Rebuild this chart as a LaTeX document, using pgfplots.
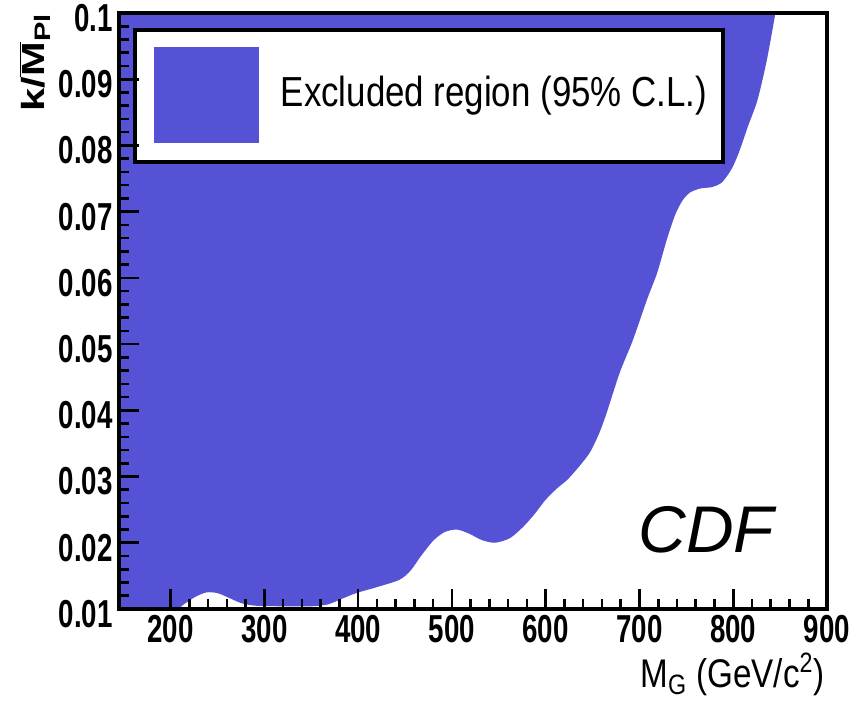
\documentclass[border=0pt]{standalone}
\usepackage{fontspec}
\setmainfont{Liberation Sans}
\newfontfamily\tickfont{Liberation Sans}[FakeStretch=0.71]
\newfontfamily\labfont{Liberation Sans}[FakeStretch=0.83]
\newfontfamily\ylabfont{Liberation Sans}[FakeStretch=1.3]
\usepackage{pgfplots}
\pgfplotsset{compat=1.18}
\usepgfplotslibrary{fillbetween}
\usetikzlibrary{calc}
\definecolor{exclblue}{RGB}{86,82,214}

\begin{document}
\begin{tikzpicture}
\begin{axis}[
  name=ax,
  scale only axis,
  width=354pt, height=298pt,
  xmin=145, xmax=900,
  ymin=0.01, ymax=0.1,
  axis on top,
  axis line style={line width=2pt, black},
  tick pos=left,
  tick align=inside,
  major tick length=10pt,
  minor tick length=5pt,
  every tick/.style={black, line width=1.3pt},
  xtick={200,300,400,500,600,700,800,900},
  xticklabels={200,300,400,500,600,700,800,900},
  ytick={0.01,0.02,0.03,0.04,0.05,0.06,0.07,0.08,0.09,0.1},
  yticklabels={0.01,0.02,0.03,0.04,0.05,0.06,0.07,0.08,0.09,0.1},
  minor x tick num=4,
  minor y tick num=4,
  xticklabel style={anchor=north, inner sep=0pt, yshift=-3pt,
    font=\tickfont\bfseries\fontsize{19.5}{20}\selectfont},
  yticklabel style={anchor=east, inner sep=0pt, xshift=-3pt, yshift=-2.5pt,
    font=\tickfont\bfseries\fontsize{19.5}{20}\selectfont},
]
% lower edge of the excluded region, k/M_Pl versus graviton mass
\addplot[name path=bnd, draw=none, smooth, tension=0.45] coordinates {
  (140,0.0097) (175,0.0097) (205,0.0099) (215,0.0108) (226,0.0118)
  (238,0.0125) (250,0.0124) (262,0.0117) (275,0.0109) (290,0.0105)
  (320,0.0104) (350,0.0104) (368,0.0107) (382,0.0115) (398,0.0124)
  (420,0.0133) (444,0.0144) (456,0.0158) (466,0.0178) (480,0.0203)
  (492,0.0216) (505,0.0220) (518,0.0214) (532,0.0204) (546,0.0200)
  (562,0.0207) (576,0.0224) (588,0.0243) (600,0.0265) (612,0.0282)
  (623,0.0295) (635,0.0314) (647,0.0336) (657,0.0365) (665,0.0396)
  (679,0.0457) (693,0.0506) (708,0.0567) (719,0.0608) (729,0.0657)
  (738,0.0695) (746,0.0717) (754,0.0729) (765,0.0735) (777,0.0737)
  (787,0.0743) (794,0.0755) (800,0.0769) (807,0.0793) (816,0.0830)
  (826,0.0869) (836,0.0930) (845,0.1000) (847,0.1020)
};
\addplot[name path=top, draw=none] coordinates {(140,0.1020) (847,0.1020)};
\addplot[fill=exclblue, draw=none] fill between[of=bnd and top];

% legend
\draw[line width=1.6pt, fill=white] (rel axis cs:0.0226,0.750) rectangle (rel axis cs:0.853,0.9715);
\fill[exclblue] (rel axis cs:0.0494,0.782) rectangle (rel axis cs:0.1977,0.943);
\node[anchor=base west, inner sep=0pt, font=\labfont\fontsize{21}{24}\selectfont]
  at (rel axis cs:0.228,0.8423) {Excluded region (95\% C.L.)};

% experiment tag
\node[anchor=base west, inner sep=0pt, font=\itshape\fontsize{33}{36}\selectfont]
  at (rel axis cs:0.733,0.0956) {CDF};
\end{axis}

\node[anchor=base east, inner sep=0pt, font=\labfont\fontsize{20}{22}\selectfont]
  at ($(ax.south east)+(-1pt,-39.5pt)$) {M\textsubscript{G} (GeV/c\textsuperscript{2})};
\node[rotate=90, anchor=base east, inner sep=0pt, font=\ylabfont\bfseries\fontsize{16}{18}\selectfont]
  at ($(ax.north west)+(-37pt,0pt)$) {k/$\overline{\mbox{M}}$\textsubscript{Pl}};

\pgfresetboundingbox
\path[use as bounding box] ($(ax.south west)+(-59.5pt,-49pt)$) rectangle ($(ax.north east)+(18pt,6.5pt)$);
\end{tikzpicture}
\end{document}
